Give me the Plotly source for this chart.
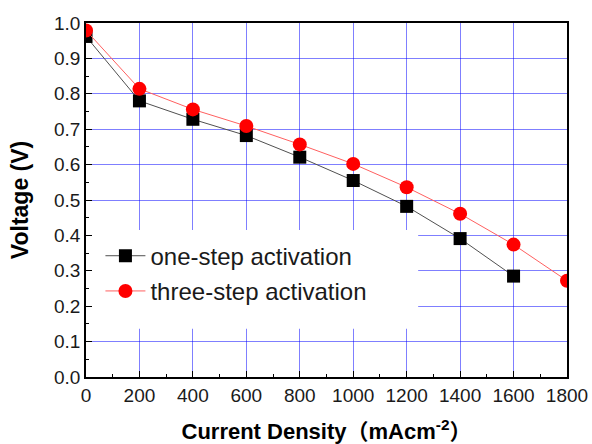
import plotly.graph_objects as go

current = [0, 200, 400, 600, 800, 1000, 1200, 1400, 1600, 1800]
one_step = [0.962, 0.780, 0.728, 0.682, 0.621, 0.555, 0.482, 0.391, 0.285]
three_step = [0.979, 0.814, 0.756, 0.709, 0.657, 0.602, 0.536, 0.461, 0.374, 0.272]

x_ticks = [0, 200, 400, 600, 800, 1000, 1200, 1400, 1600, 1800]
y_ticks = [0.0, 0.1, 0.2, 0.3, 0.4, 0.5, 0.6, 0.7, 0.8, 0.9, 1.0]

FONT = "Liberation Sans, Arial, Noto Sans CJK SC, sans-serif"

fig = go.Figure()
fig.add_trace(go.Scatter(
    x=current[:len(one_step)], y=one_step, mode="lines+markers",
    name="one-step activation", legendgroup="a",
    line=dict(color="#505050", width=1),
    marker=dict(symbol="square", size=13, color="black"),
))
fig.add_trace(go.Scatter(
    x=current[:len(three_step)], y=three_step, mode="lines+markers",
    name="three-step activation", legendgroup="b",
    line=dict(color="#ff6060", width=1),
    marker=dict(symbol="circle", size=14, color="#ff0000"),
))

# white legend background covering the gridlines
fig.add_shape(type="rect", xref="x", yref="y", x0=0, x1=1243, y0=0.136, y1=0.415,
              fillcolor="white", line=dict(width=0), layer="between")

fig.update_layout(
    width=592, height=444,
    margin=dict(l=86, r=25, t=23, b=67),
    paper_bgcolor="white", plot_bgcolor="white",
    font=dict(family=FONT, color="#1a1a1a", size=19),
    showlegend=True,
    legend=dict(x=0.03, y=0.405, xanchor="left", yanchor="top",
                bgcolor="rgba(0,0,0,0)", font=dict(size=24, color="#1a1a1a"),
                tracegroupgap=1, traceorder="grouped", itemwidth=40),
)
fig.update_xaxes(
    range=[0, 1800], tickvals=x_ticks, ticktext=[str(v) for v in x_ticks],
    showgrid=True, gridcolor="rgba(0,0,255,0.5)", gridwidth=1,
    showline=True, linecolor="black", linewidth=1.5, mirror=True,
    ticks="inside", ticklen=6, tickcolor="black",
    minor=dict(ticks="inside", ticklen=3, tickcolor="black", dtick=100, showgrid=False),
    zeroline=False, automargin=False,
    title=dict(text="<b>Current Density（mAcm<sup>-2</sup>）</b>", font=dict(size=22, color="black"),
               standoff=20),
)
fig.update_yaxes(
    range=[0, 1.0], tickvals=y_ticks, ticktext=[f"{v:.1f}" for v in y_ticks],
    showgrid=True, gridcolor="rgba(0,0,255,0.5)", gridwidth=1,
    showline=True, linecolor="black", linewidth=1.5, mirror=True,
    ticks="inside", ticklen=6, tickcolor="black",
    minor=dict(ticks="inside", ticklen=3, tickcolor="black", dtick=0.05, showgrid=False),
    zeroline=False, automargin=False,
    title=dict(text="<b>Voltage (V)</b>", font=dict(size=23, color="black"), standoff=19),
)

fig.write_html("out.html")
